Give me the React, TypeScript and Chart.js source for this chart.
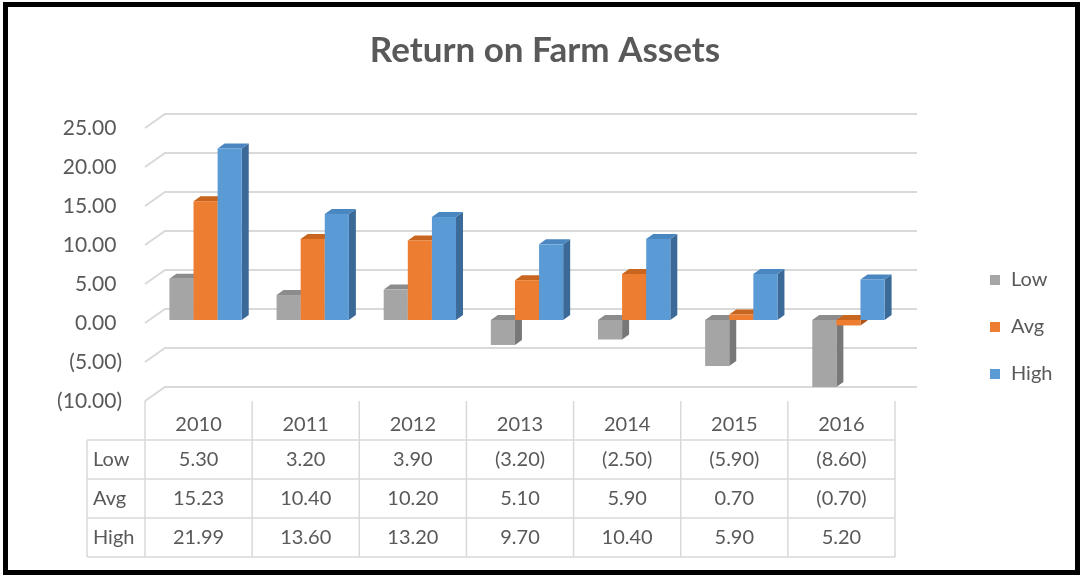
import { useEffect, useRef } from "react";
import { Chart, registerables } from "chart.js";

Chart.register(...registerables);

const categories = ["2010", "2011", "2012", "2013", "2014", "2015", "2016"];
const seriesNames = ["Low", "Avg", "High"];
const lowValues = [5.3, 3.2, 3.9, -3.2, -2.5, -5.9, -8.6];
const avgValues = [15.23, 10.4, 10.2, 5.1, 5.9, 0.7, -0.7];
const highValues = [21.99, 13.6, 13.2, 9.7, 10.4, 5.9, 5.2];
const yTicks = [25, 20, 15, 10, 5, 0, -5, -10];
const titleText = "Return on Farm Assets";

const frontColors = ["#A5A5A5", "#ED7D31", "#5B9BD5"];
const topColors = ["#8C8C8C", "#C8651F", "#4A86BF"];
const sideColors = ["#787878", "#AE561A", "#3B6A98"];
const GRID = "#D9D9D9";
const TEXT = "#595959";
const FONT = "Lato, 'Open Sans', sans-serif";
const DX = 7;
const DY = 5;

const fmt = (v: number) => (v < 0 ? `(${Math.abs(v).toFixed(2)})` : v.toFixed(2));

const threeD = {
  id: "threeD",
  beforeDatasetsDraw(chart: any) {
    const { ctx, chartArea, scales } = chart;
    const ys = scales.y;
    ctx.save();
    ctx.strokeStyle = GRID;
    ctx.lineWidth = 2;
    for (const t of yTicks) {
      const p = ys.getPixelForValue(t);
      ctx.beginPath();
      ctx.moveTo(chartArea.left - 7, p + 3);
      ctx.lineTo(chartArea.left + 13, p - 11);
      ctx.lineTo(chartArea.right + 15, p - 11);
      ctx.stroke();
    }
    const metas = chart.data.datasets.map((_: any, i: number) => chart.getDatasetMeta(i));
    for (let j = 0; j < categories.length; j++) {
      metas.forEach((meta: any, i: number) => {
        const el = meta.data[j];
        const { x, y, base, width } = el;
        const l = x - width / 2;
        const r = x + width / 2;
        const top = Math.min(y, base);
        const bot = Math.max(y, base);
        ctx.fillStyle = sideColors[i];
        ctx.beginPath();
        ctx.moveTo(r, top);
        ctx.lineTo(r + DX, top - DY);
        ctx.lineTo(r + DX, bot - DY);
        ctx.lineTo(r, bot);
        ctx.closePath();
        ctx.fill();
        ctx.fillStyle = topColors[i];
        ctx.beginPath();
        ctx.moveTo(l, top);
        ctx.lineTo(l + DX, top - DY);
        ctx.lineTo(r + DX, top - DY);
        ctx.lineTo(r, top);
        ctx.closePath();
        ctx.fill();
        ctx.fillStyle = frontColors[i];
        ctx.fillRect(l, top, width, bot - top);
      });
    }
    ctx.restore();
    return false;
  },
  afterDraw(chart: any) {
    const { ctx, chartArea, scales } = chart;
    const ys = scales.y;
    const xs = scales.x;
    ctx.save();

    ctx.fillStyle = TEXT;
    ctx.font = `bold 35px ${FONT}`;
    ctx.textAlign = "center";
    ctx.textBaseline = "alphabetic";
    ctx.fillText(titleText, 545, 62);

    ctx.font = `21px ${FONT}`;
    ctx.textAlign = "right";
    ctx.textBaseline = "middle";
    const parenW = ctx.measureText(")").width;
    const labelRight = chartArea.left - 30;
    for (const t of yTicks) {
      const p = ys.getPixelForValue(t) + 3;
      ctx.fillText(fmt(t), t < 0 ? labelRight : labelRight - parenW, p);
    }

    const n = categories.length;
    const catW = (chartArea.right - chartArea.left) / n;
    const shift = -7;
    const tLeft = chartArea.left + shift;
    const tRight = chartArea.right + shift;
    const tTop = ys.getPixelForValue(-10) + 3;
    const rowTop = 440;
    const rowH = 39;
    const rowLabelLeft = 87;
    const tBottom = rowTop + rowH * 3;
    ctx.strokeStyle = GRID;
    ctx.lineWidth = 1.5;
    for (let k = 0; k <= n; k++) {
      const xx = tLeft + k * catW;
      ctx.beginPath();
      ctx.moveTo(xx, tTop);
      ctx.lineTo(xx, tBottom);
      ctx.stroke();
    }
    ctx.beginPath();
    ctx.moveTo(rowLabelLeft, rowTop);
    ctx.lineTo(rowLabelLeft, tBottom);
    ctx.stroke();
    for (let r = 0; r <= 3; r++) {
      const yy = rowTop + r * rowH;
      ctx.beginPath();
      ctx.moveTo(rowLabelLeft, yy);
      ctx.lineTo(tRight, yy);
      ctx.stroke();
    }
    ctx.fillStyle = TEXT;
    ctx.font = `20px ${FONT}`;
    ctx.textBaseline = "middle";
    ctx.textAlign = "center";
    const series = [lowValues, avgValues, highValues];
    for (let j = 0; j < n; j++) {
      const cx = xs.getPixelForValue(j) + shift;
      ctx.fillText(categories[j], cx, (tTop + rowTop) / 2 + 4);
      series.forEach((vals, r) => {
        ctx.fillText(fmt(vals[j]), cx, rowTop + r * rowH + rowH / 2);
      });
    }
    ctx.textAlign = "left";
    seriesNames.forEach((name, r) => {
      ctx.fillText(name, rowLabelLeft + 6, rowTop + r * rowH + rowH / 2);
    });

    const legendY = [280, 327, 374];
    seriesNames.forEach((name, i) => {
      ctx.fillStyle = frontColors[i];
      ctx.fillRect(990, legendY[i] - 5, 10, 10);
      ctx.fillStyle = TEXT;
      ctx.fillText(name, 1011, legendY[i]);
    });

    ctx.strokeStyle = "#000";
    ctx.lineWidth = 5;
    ctx.strokeRect(5.5, 4.5, 1072, 568);
    ctx.restore();
  },
};

export default function App() {
  const ref = useRef<HTMLCanvasElement | null>(null);
  useEffect(() => {
    if (!ref.current) return;
    const chart = new Chart(ref.current, {
      type: "bar",
      data: {
        labels: categories,
        datasets: [lowValues, avgValues, highValues].map((vals, i) => ({
          label: seriesNames[i],
          data: vals,
          backgroundColor: frontColors[i],
          barPercentage: 1,
          categoryPercentage: 0.675,
        })),
      },
      options: {
        responsive: false,
        animation: false,
        layout: { padding: { left: 152, right: 181, top: 125, bottom: 179 } },
        scales: {
          x: { display: false },
          y: { display: false, min: -10, max: 25 },
        },
        plugins: {
          legend: { display: false },
          title: { display: false },
          tooltip: { enabled: false },
        },
      },
      plugins: [threeD],
    });
    return () => chart.destroy();
  }, []);
  return (
    <div style={{ position: "fixed", left: 0, top: 0, width: 1083, height: 577, background: "#fff" }}>
      <canvas ref={ref} width={1083} height={577} />
    </div>
  );
}
